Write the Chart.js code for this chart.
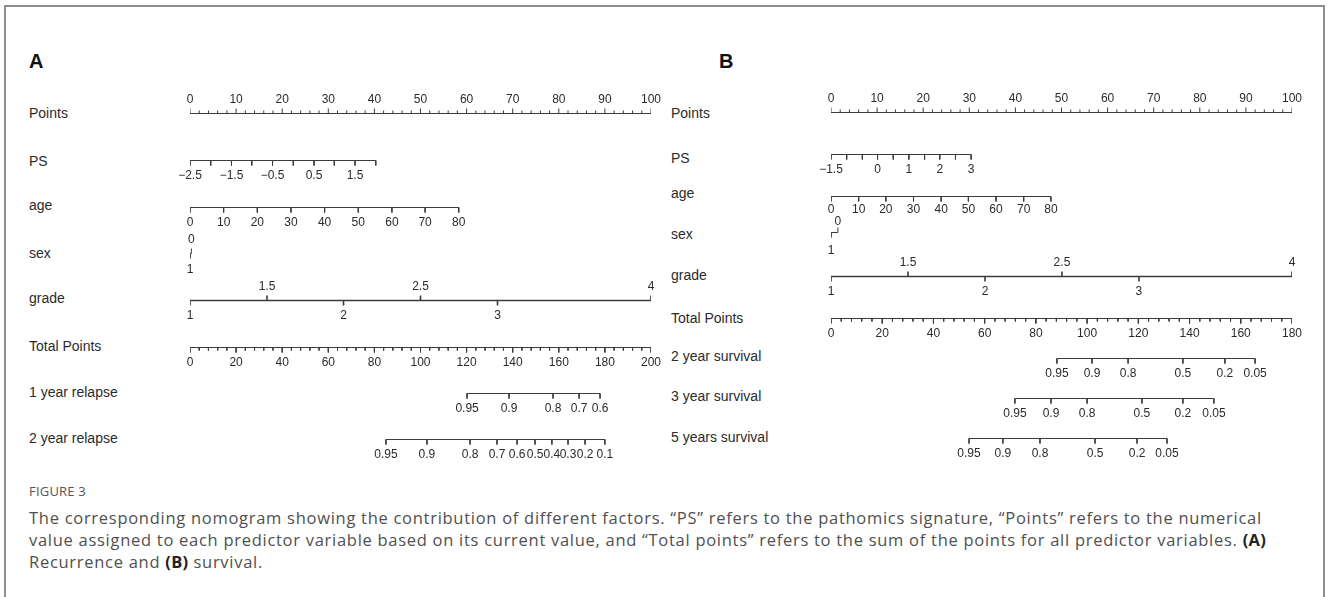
<!DOCTYPE html>
<html>
<head>
<meta charset="utf-8">
<script src="https://cdn.jsdelivr.net/npm/chart.js@4.4.1/dist/chart.umd.min.js"></script>
<style>
html,body{margin:0;padding:0;background:#fff;width:1328px;height:597px;overflow:hidden;}
#frame{position:absolute;left:4px;top:5px;width:1321px;height:640px;border:2px solid #8e8e8e;box-sizing:border-box;}
.lab{position:absolute;font-family:"Liberation Sans",Arial,sans-serif;font-size:14px;line-height:16px;color:#2b2b2b;white-space:nowrap;}
.pan{position:absolute;font-family:"Liberation Sans",Arial,sans-serif;font-weight:bold;font-size:20px;line-height:22px;color:#111;}
canvas{position:absolute;top:0;}
#figno{position:absolute;left:29px;top:483px;font-family:"Open Sans","Noto Sans",sans-serif;font-size:13px;line-height:16px;color:#555;letter-spacing:0.2px;}
#cap{position:absolute;left:29px;top:507px;font-family:"Open Sans","Noto Sans",sans-serif;font-size:16.5px;line-height:22px;color:#505050;white-space:nowrap;letter-spacing:0.72px;}
#cap b{color:#222;font-weight:bold;letter-spacing:0.3px;}
</style>
</head>
<body>
<div id="frame"></div>
<div id="labels"></div>
<canvas id="cA" width="531" height="470" style="left:150px"></canvas>
<canvas id="cB" width="531" height="470" style="left:791px"></canvas>
<div id="figno">FIGURE 3</div>
<div id="cap">The corresponding nomogram showing the contribution of different factors. “PS” refers to the pathomics signature, “Points” refers to the numerical<br>value assigned to each predictor variable based on its current value, and “Total points” refers to the sum of the points for all predictor variables. <b>(A)</b><br>Recurrence and <b>(B)</b> survival.</div>
<script>
// ================= DATA =================
// Panel A — recurrence nomogram
const A_rowNames = ["Points","PS","age","sex","grade","Total Points","1 year relapse","2 year relapse"];
const A_pointsTickLabels = [0,10,20,30,40,50,60,70,80,90,100];
const A_psValues  = [-2.5,-2,-1.5,-1,-0.5,0,0.5,1,1.5,2];
const A_psPoints  = [0,4.5,9.0,13.4,17.9,22.4,26.9,31.3,35.8,40.3];
const A_psShown   = [-2.5,-1.5,-0.5,0.5,1.5];
const A_ageValues = [0,10,20,30,40,50,60,70,80];
const A_agePoints = [0,7.3,14.6,21.9,29.2,36.5,43.8,51.0,58.3];
const A_sexValues = [0,1];
const A_sexPoints = [0.3,0];
const A_gradeValues = [1,1.5,2,2.5,3,4];
const A_gradePoints = [0,16.7,33.3,50,66.7,100];
const A_totalTickLabels = [0,20,40,60,80,100,120,140,160,180,200];
const A_relapse1Prob  = [0.95,0.9,0.8,0.7,0.6];
const A_relapse1Total = [120.2,138.4,157.5,168.8,177.9];
const A_relapse2Prob  = [0.95,0.9,0.8,0.7,0.6,0.5,0.4,0.3,0.2,0.1];
const A_relapse2Total = [85.0,102.8,121.5,133.2,141.9,149.7,157.0,164.0,171.4,180.0];

// Panel B — survival nomogram
const B_rowNames = ["Points","PS","age","sex","grade","Total Points","2 year survival","3 year survival","5 years survival"];
const B_pointsTickLabels = [0,10,20,30,40,50,60,70,80,90,100];
const B_psValues  = [-1.5,-1,-0.5,0,0.5,1,1.5,2,2.5,3];
const B_psPoints  = [0,3.4,6.8,10.1,13.5,16.9,20.3,23.6,27.0,30.4];
const B_psShown   = [-1.5,0,1,2,3];
const B_ageValues = [0,10,20,30,40,50,60,70,80];
const B_agePoints = [0,6.0,11.9,17.9,23.9,29.8,35.8,41.8,47.7];
const B_sexValues = [0,1];
const B_sexPoints = [1.5,0];
const B_gradeValues = [1,1.5,2,2.5,3,4];
const B_gradePoints = [0,16.7,33.4,50.1,66.8,100];
const B_totalTickLabels = [0,20,40,60,80,100,120,140,160,180];
const B_survProb   = [0.95,0.9,0.8,0.5,0.2,0.05];
const B_surv2Total = [88.2,101.9,116.0,137.4,153.8,165.6];
const B_surv3Total = [71.8,85.9,100.0,121.4,137.4,149.5];
const B_surv5Total = [53.9,67.1,81.6,103.1,119.5,131.2];

// ================= LAYOUT / STYLE =================
const LINE = '#3c3c3c', TXT = '#2b2b2b';
const TICK = 5, MINOR = 3;
const layoutA = {
  labelX: 29, panelLetter: 'A', letterX: 29, letterTop: 50,
  axisY:   [113.5,160.5,207.5,253.5,300.5,347.5,393.5,439.5],
  labelBase: [117.5,165.5,210,258,303,350.5,396.5,442.5],
  below: 14.5, above: 14.5, ageBelow: 14.5, sexAbove: 15, sexBelow: 15.5,
  pointsMax: 100, totalMax: 200
};
const layoutB = {
  labelX: 671, panelLetter: 'B', letterX: 719, letterTop: 50,
  axisY:   [112.5,154.5,196.5,232.5,276.5,318.5,358.5,398.5,438.5],
  labelBase: [118,163,198,239,279.5,323,360.5,401,442],
  below: 14.5, above: 14.5, ageBelow: 12, sexAbove: 11.5, sexBelow: 17.5,
  pointsMax: 100, totalMax: 180
};

const fmt = v => String(v).replace('-', '\u2212');

// Build one nomogram row: axis line + ticks (with gaps), plus its text labels
function makeRow(axis, y, ticks, lw) {
  const vs = ticks.map(t => t.v);
  const lo = Math.min(...vs), hi = Math.max(...vs);
  const pts = [{x: lo, y: y}, {x: hi, y: y}, {x: hi, y: null}];
  const labels = [];
  ticks.forEach(t => {
    pts.push({x: t.v, y: y}, {x: t.v, y: t.up ? y - t.len : y + t.len}, {x: t.v, y: null});
    if (t.text !== undefined && t.text !== '') labels.push({v: t.v, text: t.text, cy: t.up ? y - t.gap : y + t.gap});
  });
  return {axis, pts, labels, lw: lw || 1};
}

function mainAxis(axis, y, max, minorStep, labelList, up, gap) {
  const ticks = [];
  for (let v = 0; v <= max + 1e-9; v += minorStep) {
    const isMajor = labelList.includes(v);
    ticks.push({v, up, len: isMajor ? TICK : MINOR, text: isMajor ? fmt(v) : '', gap});
  }
  return makeRow(axis, y, ticks);
}

function varAxis(y, values, points, shown, gap) {
  return makeRow('x', y, values.map((val, i) => ({
    v: points[i], up: false, len: TICK, gap,
    text: (shown === null || shown.includes(val)) ? fmt(val) : ''
  })));
}

function altAxis(y, values, points, firstUp, gapUp, gapDown, lw) {
  return makeRow('x', y, values.map((val, i) => {
    const up = (i % 2 === 0) === firstUp;
    return {v: points[i], up, len: TICK, gap: up ? gapUp : gapDown, text: fmt(val)};
  }), lw);
}

function probAxis(y, probs, totals, gap) {
  return makeRow('xt', y, probs.map((p, i) => ({v: totals[i], up: false, len: TICK, gap, text: fmt(p)})));
}

function drawPanel(canvasId, L, names, rows) {
  const host = document.getElementById('labels');
  names.forEach((n, i) => {
    const d = document.createElement('div');
    d.className = 'lab'; d.textContent = n;
    d.style.left = L.labelX + 'px';
    d.style.top = (L.labelBase[i] - 12.6) + 'px';
    host.appendChild(d);
  });
  const p = document.createElement('div');
  p.className = 'pan'; p.textContent = L.panelLetter;
  p.style.left = L.letterX + 'px'; p.style.top = L.letterTop + 'px';
  host.appendChild(p);

  const datasets = rows.map(r => ({
    data: r.pts, xAxisID: r.axis, yAxisID: 'y',
    borderColor: LINE, borderWidth: r.lw, pointRadius: 0, pointHoverRadius: 0,
    fill: false, tension: 0, spanGaps: false
  }));
  const textPlugin = {
    id: 'tickText' + canvasId,
    afterDatasetsDraw(chart) {
      const ctx = chart.ctx, ys = chart.scales.y;
      ctx.save();
      ctx.fillStyle = TXT;
      ctx.font = '12px "Liberation Sans", Arial, sans-serif';
      ctx.textAlign = 'center';
      ctx.textBaseline = 'alphabetic';
      rows.forEach(r => {
        const xs = chart.scales[r.axis];
        r.labels.forEach(l => ctx.fillText(l.text, xs.getPixelForValue(l.v), ys.getPixelForValue(l.cy) + 4.3));
      });
      ctx.restore();
    }
  };
  const cv = document.getElementById(canvasId);
  new Chart(cv.getContext('2d'), {
    type: 'line',
    data: {datasets},
    options: {
      responsive: false, maintainAspectRatio: false, animation: false,
      layout: {padding: {left: 40, right: 30, top: 0, bottom: 0}},
      scales: {
        x:  {type: 'linear', min: 0, max: L.pointsMax, display: false},
        xt: {type: 'linear', axis: 'x', min: 0, max: L.totalMax, display: false},
        y:  {type: 'linear', min: 0, max: cv.height, reverse: true, display: false}
      },
      plugins: {legend: {display: false}, tooltip: {enabled: false}}
    },
    plugins: [textPlugin]
  });
}

// ----- Panel A -----
const yA = layoutA.axisY;
const rowsA = [
  mainAxis('x', yA[0], 100, 2, A_pointsTickLabels, true, layoutA.above),
  varAxis(yA[1], A_psValues, A_psPoints, A_psShown, layoutA.below),
  varAxis(yA[2], A_ageValues, A_agePoints, null, layoutA.ageBelow),
  altAxis(yA[3], A_sexValues, A_sexPoints, true, layoutA.sexAbove, layoutA.sexBelow),
  altAxis(yA[4], A_gradeValues, A_gradePoints, false, layoutA.above, layoutA.below, 1.6),
  mainAxis('xt', yA[5], 200, 4, A_totalTickLabels, false, layoutA.below),
  probAxis(yA[6], A_relapse1Prob, A_relapse1Total, layoutA.below),
  probAxis(yA[7], A_relapse2Prob, A_relapse2Total, layoutA.below)
];
drawPanel('cA', layoutA, A_rowNames, rowsA);

// ----- Panel B -----
const yB = layoutB.axisY;
const rowsB = [
  mainAxis('x', yB[0], 100, 2, B_pointsTickLabels, true, layoutB.above),
  varAxis(yB[1], B_psValues, B_psPoints, B_psShown, layoutB.below),
  varAxis(yB[2], B_ageValues, B_agePoints, null, layoutB.ageBelow),
  altAxis(yB[3], B_sexValues, B_sexPoints, true, layoutB.sexAbove, layoutB.sexBelow),
  altAxis(yB[4], B_gradeValues, B_gradePoints, false, layoutB.above, layoutB.below, 1.6),
  mainAxis('xt', yB[5], 180, 4, B_totalTickLabels, false, layoutB.below),
  probAxis(yB[6], B_survProb, B_surv2Total, layoutB.below),
  probAxis(yB[7], B_survProb, B_surv3Total, layoutB.below),
  probAxis(yB[8], B_survProb, B_surv5Total, layoutB.below)
];
drawPanel('cB', layoutB, B_rowNames, rowsB);
</script>
</body>
</html>
